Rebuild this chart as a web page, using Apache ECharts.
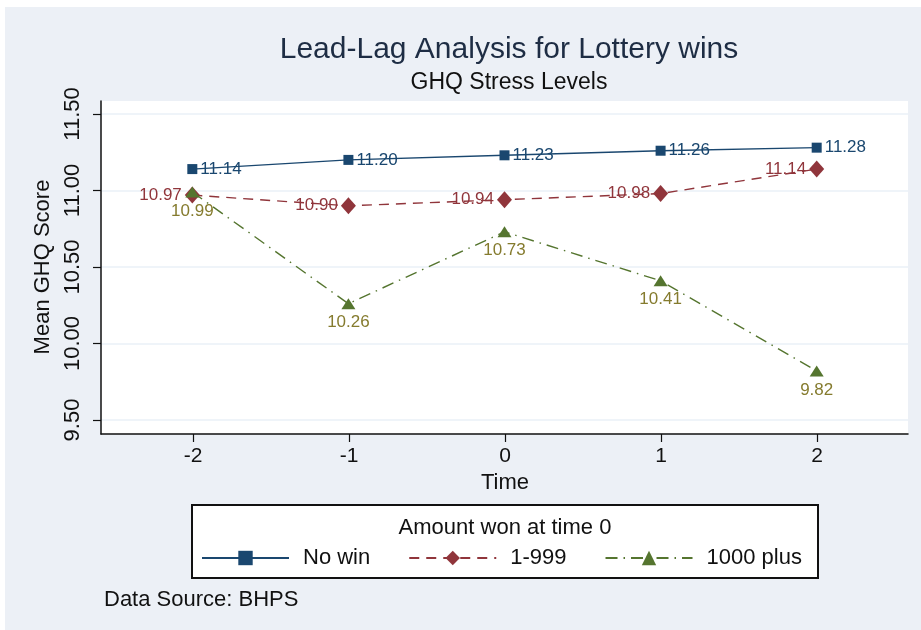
<!DOCTYPE html>
<html><head><meta charset="utf-8">
<script src="https://cdn.jsdelivr.net/npm/echarts@6/dist/echarts.min.js"></script>
<style>html,body{margin:0;padding:0;background:#fff}#c{width:921px;height:630px}</style>
</head><body><div id="c"></div>
<script>
const times = [-2, -1, 0, 1, 2];
const noWin = [11.14, 11.20, 11.23, 11.26, 11.28];
const small = [10.97, 10.90, 10.94, 10.98, 11.14];
const big = [10.99, 10.26, 10.73, 10.41, 9.82];
const seriesNames = ['No win', '1-999', '1000 plus'];
const yTicks = [9.5, 10.0, 10.5, 11.0, 11.5];

const FONT = '"Liberation Sans", Arial, sans-serif';
const NAVY = '#1A476F', MAROON = '#90353B', GREEN = '#55752F', OLIVE = '#857B2E';
const pairs = v => times.map((t, i) => [t, v[i]]);

const chart = echarts.init(document.getElementById('c'));
chart.setOption({
  backgroundColor: '#ffffff',
  animation: false,
  textStyle: { fontFamily: FONT },
  graphic: [
    { type: 'rect', z: -10, shape: { x: 5, y: 7, width: 916, height: 623 }, style: { fill: '#ECF0F6' } },
    { type: 'rect', z: 10, shape: { x: 192, y: 505, width: 626, height: 73 }, style: { fill: '#ffffff', stroke: '#111', lineWidth: 2 } },
    { type: 'text', z: 11, x: 505, y: 528, style: { text: 'Amount won at time 0', font: '22px ' + FONT, fill: '#111', align: 'center', verticalAlign: 'middle' } },
    { type: 'text', z: 11, x: 104, y: 600, style: { text: 'Data Source: BHPS', font: '22px ' + FONT, fill: '#111', align: 'left', verticalAlign: 'middle' } }
  ],
  title: {
    text: 'Lead-Lag Analysis for Lottery wins',
    subtext: 'GHQ Stress Levels',
    left: 504, textAlign: 'center', top: 30, itemGap: 6,
    textStyle: { fontFamily: FONT, fontSize: 30, fontWeight: 'normal', color: '#1E2D44' },
    subtextStyle: { fontFamily: FONT, fontSize: 23, color: '#111' }
  },
  legend: {
    data: seriesNames,
    left: 201, top: 547, z: 12, padding: 0,
    orient: 'horizontal',
    itemWidth: 87, itemHeight: 18, itemGap: 38,
    textStyle: { fontFamily: FONT, fontSize: 22, color: '#111', padding: [0, 0, 0, 9] }
  },
  grid: [
    { left: 101, right: 13, top: 101, bottom: 196, show: true, backgroundColor: '#ffffff', borderWidth: 0, z: 0 },
    { left: 101, right: 13, top: 114, bottom: 210 },
    { left: 193, right: 104, top: 101, bottom: 196 }
  ],
  xAxis: [
    { gridIndex: 0, type: 'value', min: -2.585, max: 2.585, axisLine: { show: true, onZero: false, lineStyle: { color: '#111', width: 1.5 } }, axisTick: { show: false }, axisLabel: { show: false }, splitLine: { show: false } },
    { gridIndex: 1, type: 'value', min: -2.585, max: 2.585, show: false, axisLine: { onZero: false }, splitLine: { show: false } },
    { gridIndex: 2, type: 'value', min: -2, max: 2, interval: 1, name: 'Time', nameLocation: 'middle', nameGap: 33,
      nameTextStyle: { fontFamily: FONT, fontSize: 22, color: '#111' },
      axisLine: { show: false, onZero: false }, axisTick: { show: true, length: 8, lineStyle: { color: '#111', width: 1.2 } },
      axisLabel: { fontFamily: FONT, fontSize: 21, color: '#111', margin: 12, formatter: v => String(v) },
      splitLine: { show: false } }
  ],
  yAxis: [
    { gridIndex: 0, type: 'value', min: 9.408, max: 11.585, axisLine: { show: true, onZero: false, lineStyle: { color: '#111', width: 1.5 } }, axisTick: { show: false }, axisLabel: { show: false }, splitLine: { show: false } },
    { gridIndex: 1, type: 'value', min: 9.5, max: 11.5, interval: 0.5, position: 'left',
      name: 'Mean GHQ Score', nameLocation: 'middle', nameGap: 40, nameRotate: 90,
      nameTextStyle: { fontFamily: FONT, fontSize: 22, color: '#111' },
      axisLine: { show: false, onZero: false }, axisTick: { show: true, length: 8, lineStyle: { color: '#111', width: 1.2 } },
      axisLabel: { fontFamily: FONT, fontSize: 22, color: '#111', rotate: 90, margin: 17, formatter: v => yTicks.includes(v) ? v.toFixed(2) : '' },
      splitLine: { show: true, lineStyle: { color: '#EAF0F7', width: 1.5 } } },
    { gridIndex: 2, type: 'value', min: 0, max: 1, show: false, axisLine: { onZero: false }, splitLine: { show: false } }
  ],
  series: [
    { name: seriesNames[0], type: 'line', xAxisIndex: 1, yAxisIndex: 1, data: pairs(noWin), z: 5,
      symbol: 'rect', symbolSize: 10, color: NAVY,
      lineStyle: { color: NAVY, width: 1.4, type: 'solid' }, itemStyle: { color: NAVY },
      label: { show: true, position: 'right', distance: 3, fontFamily: FONT, fontSize: 17, color: NAVY, formatter: p => p.value[1].toFixed(2) } },
    { name: seriesNames[1], type: 'line', xAxisIndex: 1, yAxisIndex: 1, data: pairs(small), z: 4,
      symbol: 'diamond', symbolSize: [15, 17], color: MAROON,
      lineStyle: { color: MAROON, width: 1.4, type: [10, 7] }, itemStyle: { color: MAROON },
      label: { show: true, position: 'left', distance: 3, fontFamily: FONT, fontSize: 17, color: MAROON, formatter: p => p.value[1].toFixed(2) } },
    { name: seriesNames[2], type: 'line', xAxisIndex: 1, yAxisIndex: 1, data: pairs(big), z: 6,
      symbol: 'triangle', symbolSize: [14, 11], color: GREEN,
      lineStyle: { color: GREEN, width: 1.4, type: [12, 6, 1.5, 6] }, itemStyle: { color: GREEN },
      label: { show: true, position: 'bottom', distance: 5, fontFamily: FONT, fontSize: 17, color: OLIVE, formatter: p => p.value[1].toFixed(2) } }
  ]
});
</script></body></html>
